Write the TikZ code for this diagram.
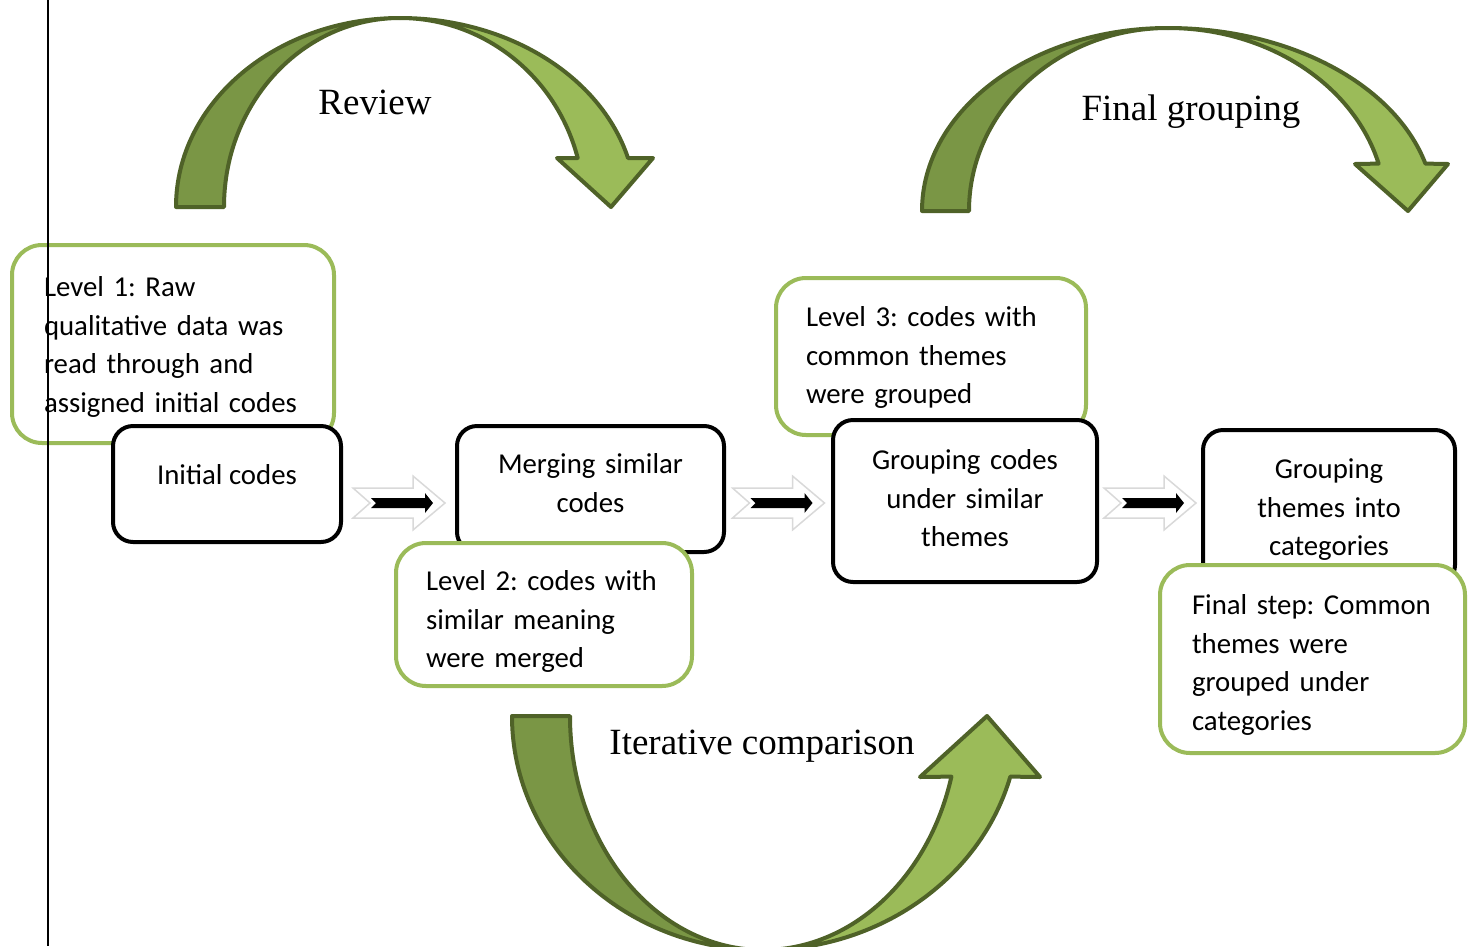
\documentclass[tikz,border=0pt]{standalone}
\usepackage{fontspec}
\setmainfont{Carlito}
\newfontfamily\serifface{Liberation Serif}
\frenchspacing
\usetikzlibrary{calc}
\definecolor{leafgreen}{HTML}{9BBB59}
\definecolor{mossgreen}{HTML}{7A9645}
\definecolor{barkgreen}{HTML}{4F6228}
\tikzset{
    code-box/.style = {draw=black, fill=white, line width=4pt, rectangle, rounded corners=20pt, align=center, inner sep=0pt, font=\fontsize{28.8}{38.5}\selectfont},
    note-box/.style = {draw=leafgreen, fill=white, line width=4pt, rectangle, rounded corners=30pt, align=left, inner ysep=0pt, font=\fontsize{28.8}{38.5}\selectfont},
    loop-back/.style = {fill=mossgreen, draw=barkgreen, line width=4pt, line join=round},
    loop-front/.style = {fill=leafgreen, draw=barkgreen, line width=4pt, line join=round},
    loop-label/.style = {font=\serifface\fontsize{37}{44}\selectfont},
    block-arrow/.pic = {
        \draw[fill=white, draw=black!15, line width=1.5pt] (-46,-15) -- (-29,0) -- (-46,15) -- (14,15) -- (14,27) -- (46,0) -- (14,-27) -- (14,-15) -- cycle;
        \fill[black] (-28,-5) -- (-23,0) -- (-28,5) -- (26,5) -- (26,10) -- (34,0) -- (26,-10) -- (26,-5) -- cycle;
    },
}

\begin{document}
\begin{tikzpicture}[x=1pt, y=-1pt]
\useasboundingbox (0,0) rectangle (1470,946);
\clip (0,0) rectangle (1470,946);

% loops
\draw[loop-back] (176,207) .. controls (176,102.6) and (276.3,18) .. (400,18) .. controls (302.8,18) and (224,102.6) .. (224,207) -- cycle;
\draw[loop-front] (400,18) .. controls (506.8,18) and (600.4,75.5) .. (628,158) -- (653,158) -- (611,207) -- (557,158) -- (577.7,158) .. controls (556.2,75.5) and (483.3,18) .. (400,18) -- cycle;
\node[loop-label] (review) at (375,102) {Review};

\draw[loop-back] (922,211) .. controls (922,110) and (1032.1,28) .. (1168,28) .. controls (1058.1,28) and (969,110) .. (969,211) -- cycle;
\draw[loop-front] (1168,28) .. controls (1288.6,28) and (1394.3,83.6) .. (1425.4,163.6) -- (1448,164) -- (1408,211) -- (1355,164) -- (1378.6,163.6) .. controls (1353.1,83.6) and (1266.6,28) .. (1168,28) -- cycle;
\node[loop-label] (regroup) at (1191,112) {Final grouping};

\draw[loop-back] (512,716) .. controls (512,845.2) and (624.4,950) .. (763,950) .. controls (656.4,950) and (570,845.2) .. (570,716) -- cycle;
\draw[loop-front] (763,950) .. controls (878.8,950) and (980.3,878.9) .. (1010.3,776.6) -- (1040,777) -- (987,716) -- (920,777) -- (951.4,776.6) .. controls (928.6,878.9) and (851.2,950) .. (763,950) -- cycle;
\node[loop-label] (iterate) at (762,746) {Iterative comparison};

% boxes
\node[note-box, minimum width=322pt, text width=258pt, inner xsep=32pt, text height=51.5pt, text depth=146.5pt] (level1) at (173,344) {Level 1: Raw\\qualitative data was\\read through and\\assigned initial codes};
\node[code-box, minimum width=228pt, minimum height=116pt, text depth=20pt] (init) at (227,484) {Initial codes};

\node[code-box, text width=240pt, inner xsep=13.5pt, text height=47.5pt, text depth=78.5pt] (merge) at (590.5,489) {Merging similar\\codes};
\node[note-box, minimum width=296pt, text width=236pt, inner xsep=30pt, text height=47.5pt, text depth=95.5pt] (level2) at (544,614.5) {Level 2: codes with\\similar meaning\\were merged};

\node[note-box, minimum width=310pt, text width=250pt, inner xsep=30pt, text height=48.5pt, text depth=108.5pt] (level3) at (931,356.5) {Level 3: codes with\\common themes\\were grouped};
\node[code-box, text width=240pt, inner xsep=12pt, text height=49.5pt, text depth=112.5pt] (gcodes) at (965,501) {Grouping codes\\under similar\\themes};

\node[code-box, text width=230pt, inner xsep=11pt, text height=48.5pt, text depth=106.5pt] (gthemes) at (1329,507.5) {Grouping\\themes into\\categories};
\node[note-box, minimum width=305pt, text width=241pt, inner xsep=32pt, text height=49.5pt, text depth=138.5pt] (final) at (1312.5,659) {Final step: Common\\themes were\\grouped under\\categories};

% arrows between steps
\coordinate (row) at (0,503);
\path ($(init.east)!.5!(merge.west)$) coordinate (m1)
      ($(merge.east)!.5!(gcodes.west)$) coordinate (m2)
      ($(gcodes.east)!.5!(gthemes.west)$) coordinate (m3);
\foreach \m in {m1,m2,m3}
    \pic at (\m |- row) {block-arrow};

\coordinate (rule-top) at (48,0);
\coordinate (rule-bottom) at (48,946);
\draw[line width=2pt] (rule-top) -- (rule-bottom);
\end{tikzpicture}
\end{document}
